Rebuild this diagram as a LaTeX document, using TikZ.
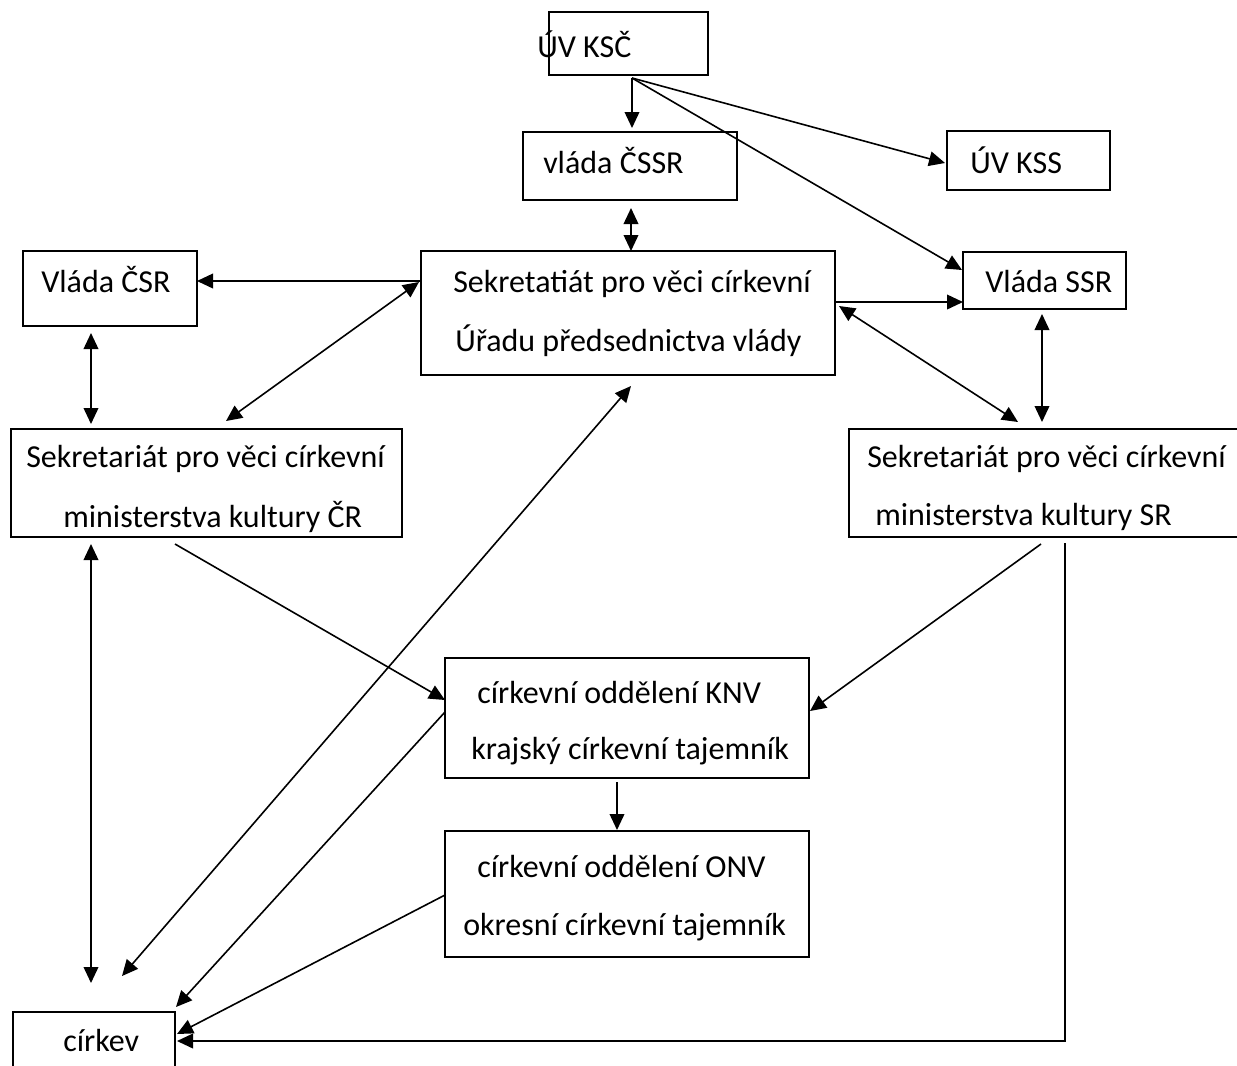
\documentclass[tikz,border=0pt]{standalone}
\usepackage{fontspec}
\setmainfont{Carlito}
\usetikzlibrary{arrows.meta,calc}
\begin{document}
\begin{tikzpicture}[x=0.75pt,y=-0.75pt,
  box/.style={draw,line width=1.35pt,inner sep=0pt,outer sep=0pt,anchor=north west},
  lbl/.style={font=\fontsize{24}{28}\selectfont,inner sep=0pt,anchor=base west},
  con/.style={line width=1.2pt,-{Triangle[length=12pt,width=11pt]}},
  dcon/.style={line width=1.2pt,{Triangle[length=12pt,width=11pt]}-{Triangle[length=12pt,width=11pt]}}]
\useasboundingbox (0,0) rectangle (1237,1065);
\newcommand\bx[5]{\node[box,minimum width={(#4-#2)*0.75pt},minimum height={(#5-#3)*0.75pt}] (#1) at (#2,#3) {};}
% boxes
\bx{uvksc}{549}{12}{708}{75}
\bx{cssr}{523}{132}{737}{200}
\bx{uvkss}{947}{131}{1110}{190}
\bx{csr}{23}{251}{197}{326}
\bx{sekr}{421}{251}{835}{375}
\bx{ssr}{963}{252}{1126}{309}
\bx{mkcr}{11}{429}{402}{537}
\bx{mksr}{849}{429}{1250}{537}
\bx{knv}{445}{658}{809}{778}
\bx{onv}{445}{831}{809}{957}
\bx{cirkev}{13}{1012}{175}{1080}
% texts
\node[lbl] (t1) at (537,57) {ÚV KSČ};
\node[lbl] (t2) at (543,173) {vláda ČSSR};
\node[lbl] (t3) at (970,173) {ÚV KSS};
\node[lbl] (t4) at (41,292) {Vláda ČSR};
\node[lbl] (t5) at (453,292) {Sekretatiát pro věci církevní};
\node[lbl] (t6) at (455,351) {Úřadu předsednictva vlády};
\node[lbl] (t7) at (985,292) {Vláda SSR};
\node[lbl] (t8) at (26,467) {Sekretariát pro věci církevní};
\node[lbl] (t9) at (63,527) {ministerstva kultury ČR};
\node[lbl] (t10) at (867,467) {Sekretariát pro věci církevní};
\node[lbl] (t11) at (875,525) {ministerstva kultury SR};
\node[lbl] (t12) at (477,703) {církevní oddělení KNV};
\node[lbl] (t13) at (471,759) {krajský církevní tajemník};
\node[lbl] (t14) at (477,877) {církevní oddělení ONV};
\node[lbl] (t15) at (463,935) {okresní církevní tajemník};
\node[lbl] (t16) at (63,1051) {církev};
% connectors
\coordinate (ko) at ($(uvksc.south west)+(83,3)$);
\draw[con] (ko) -- ($(cssr.north west)+(109,-4)$);
\draw[con] (ko) -- ($(uvkss.north west)+(-2,32)$);
\draw[con] (ko) -- ($(ssr.north west)+(-1,18)$);
\draw[dcon] ($(cssr.south west)+(108,8)$) -- ($(sekr.north west)+(210,0)$);
\draw[con] ($(sekr.north west)+(0,30)$) -- ($(csr.north east)+(0,30)$);
\draw[dcon] ($(sekr.north west)+(-2,31)$) -- ($(mkcr.north west)+(215,-8)$);
\draw[dcon] ($(csr.south west)+(68,7)$) -- ($(mkcr.north west)+(80,-5)$);
\draw[con] ($(sekr.north east)+(0,51)$) -- ($(ssr.north west)+(0,50)$);
\draw[dcon] ($(sekr.north east)+(4,55)$) -- ($(mksr.north west)+(169,-7)$);
\draw[dcon] ($(ssr.south west)+(79,5)$) -- ($(mksr.north west)+(193,-7)$);
\draw[dcon] ($(mkcr.south west)+(80,7)$) -- ($(cirkev.north west)+(78,-29)$);
\draw[con] ($(mkcr.south west)+(164,7)$) -- ($(knv.north west)+(0,42)$);
\draw[dcon] ($(sekr.south west)+(210,11)$) -- ($(cirkev.north west)+(109,-36)$);
\draw[con] ($(knv.north west)+(0,54)$) -- ($(cirkev.north east)+(1,-5)$);
\draw[con] ($(mksr.south west)+(192,7)$) -- ($(knv.north east)+(1,53)$);
\draw[con] ($(knv.south west)+(172,4)$) -- ($(onv.north west)+(172,-1)$);
\draw[con] ($(onv.north west)+(0,64)$) -- ($(cirkev.north east)+(2,22)$);
\draw[con] ($(mksr.south west)+(216,6)$) |- ($(cirkev.north east)+(2,29)$);
\end{tikzpicture}
\end{document}
